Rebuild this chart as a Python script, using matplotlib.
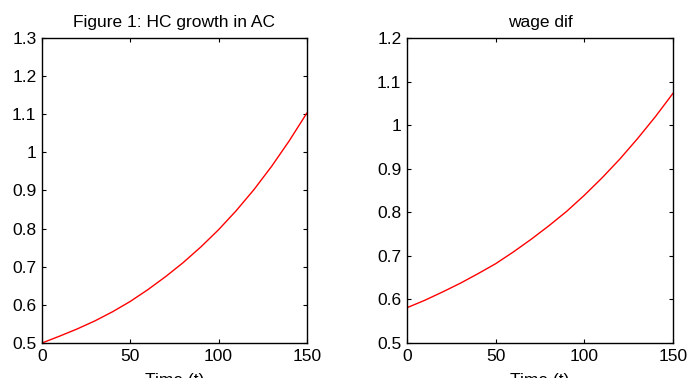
import matplotlib.pyplot as plt
import numpy as np

plt.rcParams["font.family"] = ["Liberation Sans", "DejaVu Sans"]
plt.rcParams["font.size"] = 12.5

# data (every 10 periods)
t = [0, 10, 20, 30, 40, 50, 60, 70, 80, 90, 100, 110, 120, 130, 140, 150]
hc_growth = [0.500, 0.518, 0.537, 0.558, 0.582, 0.609, 0.640, 0.674, 0.711,
             0.752, 0.797, 0.847, 0.902, 0.963, 1.030, 1.103]
wage_dif = [0.581, 0.598, 0.617, 0.637, 0.659, 0.682, 0.709, 0.738, 0.769,
            0.802, 0.839, 0.879, 0.922, 0.969, 1.019, 1.073]

fig = plt.figure(figsize=(6.88, 3.78), dpi=100)
ax1 = fig.add_axes([0.061, 0.0926, 0.385, 0.807])
ax2 = fig.add_axes([0.5916, 0.0926, 0.3866, 0.807])

panels = [
    (ax1, hc_growth, "Figure 1: HC growth in AC", (0.5, 1.3), np.arange(0.5, 1.31, 0.1)),
    (ax2, wage_dif, "wage dif", (0.5, 1.2), np.arange(0.5, 1.21, 0.1)),
]

for ax, y, title, ylim, yticks in panels:
    ax.plot(t, y, color="red", linewidth=1.0)
    ax.set_xlim(0, 150)
    ax.set_ylim(*ylim)
    ax.set_xticks([0, 50, 100, 150])
    ax.set_yticks(yticks)
    ax.set_yticklabels(["%g" % round(v, 1) for v in yticks])
    ax.tick_params(direction="in", top=True, right=True, length=3, width=0.8, pad=4)
    ax.set_title(title, fontsize=12.5, pad=8)
    ax.set_xlabel("Time (t)", labelpad=7)
    for s in ax.spines.values():
        s.set_linewidth(1.0)

fig.savefig("out.png", dpi=100)
